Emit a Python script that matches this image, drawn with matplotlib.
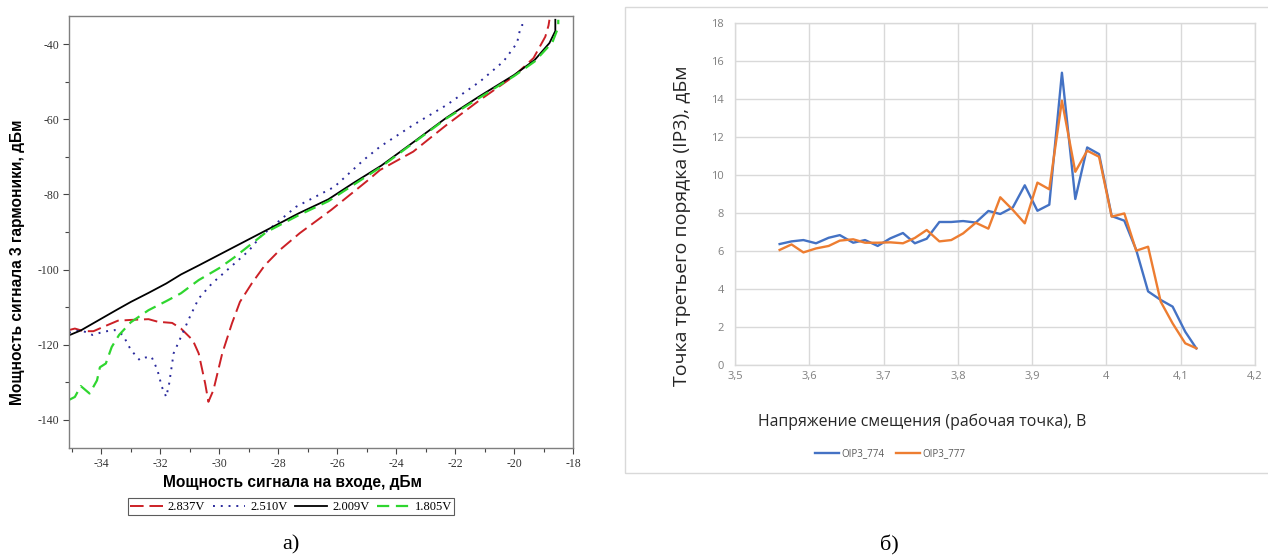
#!/usr/bin/env python3

import numpy as np
import matplotlib
matplotlib.use("Agg")
import matplotlib.pyplot as plt
from matplotlib.patches import Rectangle
from matplotlib.ticker import MultipleLocator

plt.rcParams["axes.unicode_minus"] = False

# ======================================================
# (a) 3RD HARMONIC vs INPUT POWER
# ======================================================

pin_2837 = [-35.1, -34.9, -34.6, -34.27, -33.8, -33.44, -33.0, -32.4, -32.08,
            -31.6, -31.3, -30.9, -30.7, -30.48, -30.37, -30.2, -29.9, -29.57,
            -29.3, -28.9, -28.45, -27.95, -27.27, -26.2, -25.0, -24.55, -23.42,
            -22.85, -22.29, -21.15, -20.02, -19.34, -18.94, -18.83, -18.8]
p3_2837 = [-116.1, -115.7, -116.4, -116.4, -114.8, -113.6, -113.4, -113.2, -113.9,
           -114.2, -115.7, -118.8, -122.3, -130.3, -135.2, -132.1, -122.3, -114.3,
           -108.6, -103.7, -98.8, -94.8, -90.3, -84.1, -76.5, -73.5, -68.6,
           -65.0, -61.5, -54.8, -48.6, -43.7, -38.0, -35.0, -33.5]

pin_2510 = [-35.1, -34.7, -34.3, -33.9, -33.55, -33.27, -33.0, -32.7, -32.5,
            -32.3, -32.1, -31.95, -31.8, -31.7, -31.55, -31.3, -31.0, -30.7,
            -30.25, -29.6, -29.0, -28.6, -27.4, -26.1, -25.1, -24.55, -23.42,
            -22.29, -21.15, -20.36, -19.9, -19.8, -19.73, -19.6]
p3_2510 = [-116.8, -116.1, -117.4, -116.5, -116.1, -117.4, -121.4, -124.1, -123.4,
           -123.2, -126.7, -131.2, -133.9, -130.3, -122.3, -117.9, -112.6, -107.7,
           -103.7, -99.2, -95.0, -91.2, -83.3, -78.0, -70.8, -67.3, -61.5,
           -56.2, -49.9, -44.6, -39.7, -36.2, -34.9, -34.9]

pin_2009 = [-35.1, -34.7, -34.1, -33.5, -33.0, -32.4, -31.8, -31.3, -30.7,
            -29.6, -28.4, -27.3, -26.3, -25.5, -24.5, -23.4, -22.3, -21.2,
            -20.0, -19.3, -18.8, -18.6, -18.6]
p3_2009 = [-117.5, -116.2, -113.5, -110.8, -108.6, -106.2, -103.7, -101.3, -98.9,
           -94.4, -89.5, -85.0, -81.3, -77.2, -72.3, -66.0, -59.6, -54.0,
           -48.2, -44.2, -39.7, -36.5, -33.5]

pin_1805 = [-35.1, -34.9, -34.7, -34.4, -34.15, -34.05, -33.85, -33.65, -33.4,
            -33.0, -32.4, -31.8, -31.3, -30.7, -30.0, -29.5, -28.4, -27.3,
            -26.3, -24.5, -22.3, -20.0, -19.3, -18.7, -18.5, -18.5]
p3_1805 = [-134.7, -133.9, -131.0, -133.0, -129.5, -126.0, -125.0, -120.6, -117.4,
           -114.0, -110.8, -108.4, -106.3, -102.8, -99.6, -96.8, -90.0, -85.5,
           -81.8, -72.6, -59.8, -48.5, -44.6, -39.5, -35.5, -33.5]

labels_a = ["2.837V", "2.510V", "2.009V", "1.805V"]

# ======================================================
# (b) OIP3 vs BIAS VOLTAGE
# ======================================================

u_bias = [3.560, 3.576, 3.592, 3.609, 3.626, 3.641, 3.659, 3.675, 3.692, 3.709,
          3.726, 3.742, 3.758, 3.775, 3.791, 3.807, 3.824, 3.841, 3.857, 3.874,
          3.890, 3.907, 3.923, 3.940, 3.958, 3.974, 3.990, 4.007, 4.024, 4.040,
          4.056, 4.073, 4.089, 4.106, 4.121]

oip3_774 = [6.36, 6.50, 6.57, 6.40, 6.69, 6.83, 6.43, 6.57, 6.26, 6.66,
            6.94, 6.40, 6.64, 7.52, 7.52, 7.57, 7.49, 8.10, 7.94, 8.29,
            9.45, 8.11, 8.43, 15.37, 8.73, 11.44, 11.09, 7.83, 7.59, 6.05,
            3.87, 3.42, 3.07, 1.75, 0.87]

oip3_777 = [6.05, 6.34, 5.92, 6.13, 6.26, 6.54, 6.61, 6.43, 6.43, 6.45,
            6.40, 6.68, 7.10, 6.50, 6.57, 6.92, 7.48, 7.17, 8.82, 8.15,
            7.45, 9.59, 9.24, 13.90, 10.16, 11.27, 10.95, 7.80, 7.97, 6.01,
            6.22, 3.33, 2.19, 1.14, 0.88]

xticks_b = [3.5, 3.6, 3.7, 3.8, 3.9, 4.0, 4.1, 4.2]
xtick_labels_b = ["3,5", "3,6", "3,7", "3,8", "3,9", "4", "4,1", "4,2"]

# ======================================================
# FIGURE
# ======================================================

fig = plt.figure(figsize=(12.68, 5.58), dpi=100)

serif = ["Liberation Serif", "DejaVu Serif"]
sans = ["Liberation Sans", "DejaVu Sans"]
office = ["Open Sans", "DejaVu Sans"]

# ----------------------------------------
# left panel
# ----------------------------------------

ax1 = fig.add_axes([0.0544, 0.1971, 0.3975, 0.7742])

ax1.plot(pin_2837, p3_2837, color="#cc2026", lw=1.4, dashes=(7, 3),
         label=labels_a[0])
ax1.plot(pin_2510, p3_2510, color="#2a2a9c", lw=1.4, dashes=(1, 3),
         label=labels_a[1])
ax1.plot(pin_2009, p3_2009, color="black", lw=1.3,
         label=labels_a[2])
ax1.plot(pin_1805, p3_1805, color="#2fd62f", lw=1.6, dashes=(5.5, 3),
         label=labels_a[3])

ax1.set_xlim(-35.1, -18)
ax1.set_ylim(-147.5, -32.5)

ax1.xaxis.set_major_locator(MultipleLocator(2))
ax1.xaxis.set_minor_locator(MultipleLocator(1))
ax1.yaxis.set_major_locator(MultipleLocator(20))
ax1.yaxis.set_minor_locator(MultipleLocator(10))

ax1.tick_params(which="both", direction="out", color="#444444",
                top=False, right=False)
ax1.tick_params(which="major", length=4, width=0.8,
                labelsize=8.5, labelcolor="#333333", pad=3)
ax1.tick_params(which="minor", length=3, width=0.8)
for lbl in ax1.get_xticklabels() + ax1.get_yticklabels():
    lbl.set_family(serif)

for sp in ax1.spines.values():
    sp.set_color("#7f7f7f")
    sp.set_linewidth(1.0)

ax1.set_xlabel("Мощность сигнала на входе, дБм", family=sans,
               fontsize=11.2, fontweight="bold")
ax1.set_ylabel("Мощность сигнала 3 гармоники, дБм", family=sans,
               fontsize=11.2, fontweight="bold")
ax1.xaxis.set_label_coords(0.444, -0.063)
ax1.yaxis.set_label_coords(-0.088, 0.43)

leg1 = ax1.legend(loc="center", bbox_to_anchor=(0.2295, 0.0914),
                  bbox_transform=fig.transFigure, ncol=4,
                  prop={"family": serif, "size": 9},
                  frameon=True, fancybox=False, edgecolor="#333333",
                  borderpad=0.2, handlelength=2.6, handletextpad=0.4,
                  columnspacing=0.6)
leg1.get_frame().set_linewidth(0.8)

fig.text(0.2295, 1 - 545 / 558, "а)", family=serif, fontsize=16,
         ha="center", va="center")

# ----------------------------------------
# right panel
# ----------------------------------------

# chart area border
fig.patches.append(Rectangle((625 / 1268, 1 - 473 / 558),
                             0.52, (473 - 7) / 558,
                             transform=fig.transFigure,
                             fill=False, edgecolor="#d9d9d9", lw=1.0))

ax2 = fig.add_axes([0.5797, 0.3459, 0.4101, 0.6134])

ax2.plot(u_bias, oip3_774, color="#4472c4", lw=1.7, label="OIP3_774")
ax2.plot(u_bias, oip3_777, color="#ed7d31", lw=1.7, label="OIP3_777")

ax2.set_xlim(3.5, 4.2)
ax2.set_ylim(0, 18)
ax2.set_xticks(xticks_b)
ax2.set_xticklabels(xtick_labels_b)
ax2.set_yticks(np.arange(0, 19, 2))

ax2.grid(True, color="#d9d9d9", lw=1.0)
ax2.set_axisbelow(True)
for sp in ax2.spines.values():
    sp.set_color("#d9d9d9")
    sp.set_linewidth(1.0)
ax2.tick_params(axis="x", length=0, labelsize=8, labelcolor="#7f7f7f", pad=4)
ax2.tick_params(axis="y", length=0, labelsize=8, labelcolor="#7f7f7f", pad=8)
for lbl in ax2.get_xticklabels() + ax2.get_yticklabels():
    lbl.set_family(office)

ax2.set_xlabel("Напряжение смещения (рабочая точка), В",
               family=office, fontsize=11.4, color="#262626")
ax2.set_ylabel("Точка третьего порядка (IP3), дБм",
               family=office, fontsize=14, color="#262626")
ax2.xaxis.set_label_coords(0.36, -0.143)
ax2.yaxis.set_label_coords(-0.084, 0.406)

leg2 = ax2.legend(loc="center", bbox_to_anchor=(890 / 1268, 1 - 454 / 558),
                  bbox_transform=fig.transFigure, ncol=2, frameon=False,
                  prop={"family": office, "size": 7},
                  handlelength=2.5, handletextpad=0.2, columnspacing=1.2)
for t in leg2.get_texts():
    t.set_color("#595959")

fig.text(889 / 1268, 1 - 545 / 558, "б)", family=serif, fontsize=16,
         ha="center", va="center")

plt.savefig("out.png", dpi=100)
